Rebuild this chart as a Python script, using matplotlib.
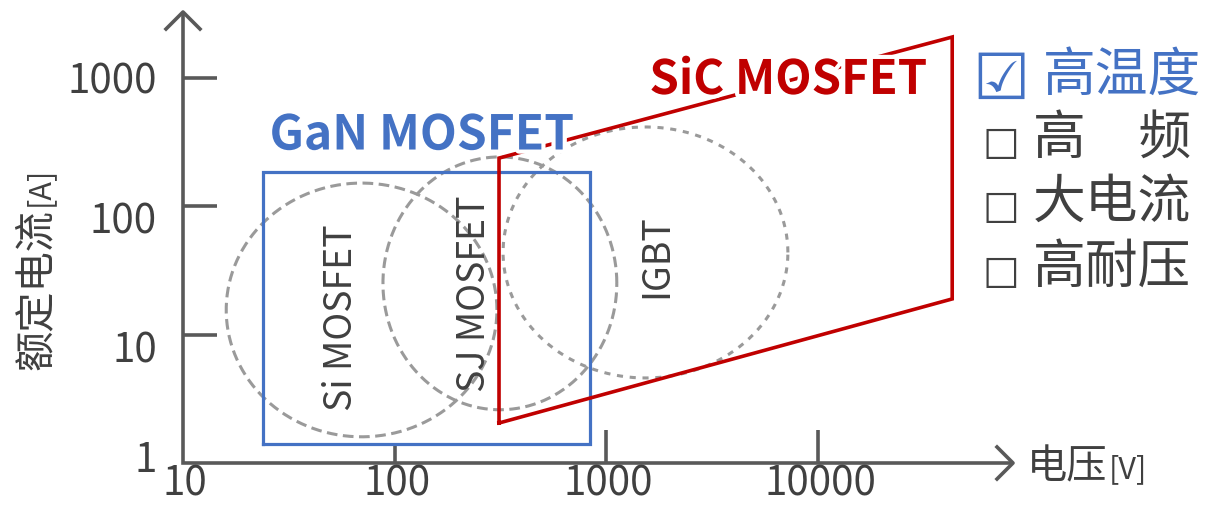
import numpy as np
import matplotlib.pyplot as plt
from matplotlib import patheffects as pe

plt.rcParams['font.family'] = ['Noto Sans CJK SC', 'DejaVu Sans']

# 坐标轴刻度
x_ticks = [10, 100, 1000, 10000]
y_ticks = [1, 10, 100, 1000]

# 各器件的电压/电流范围（椭圆外接框）
devices = ['Si MOSFET', 'SJ MOSFET', 'IGBT']
dev_v = [(16, 304), (88, 1120), (325, 7200)]
dev_i = [(1.6, 152), (2.6, 243), (4.6, 416)]
dev_label_v = [56, 239, 1734]
dev_label_i = [13.5, 21, 41]

# GaN 矩形范围
gan_v = (24, 836)
gan_i = (1.41, 185)

# SiC 平行四边形范围
sic_v = (311, 43000)
sic_i_left = (2.05, 238)
sic_i_right = (19, 2090)

# 右侧特性列表
features = ['高温度', '高　频', '大电流', '高耐压']
checked = [True, False, False, False]

AXC = '#595959'
TXT = '#404040'
GRAY = '#9a9a9a'
BLUE = '#4472C4'
RED = '#C00000'

W, H = 1206, 505
X0, DX = 183, 211.7   # 像素: V=10 的位置, 每个数量级的像素
Y0, DY = 463, 128.3   # 像素: I=1 的位置


def vx(px):
    return 10 ** (1 + (px - X0) / DX)


def iy(py):
    return 10 ** ((Y0 - py) / DY)


def fx(px):
    return px / W


def fy(py):
    return 1 - py / H


fig = plt.figure(figsize=(W / 100, H / 100), dpi=100)
ax = fig.add_axes([0, 0, 1, 1])
ax.set_xscale('log')
ax.set_yscale('log')
ax.set_xlim(vx(0), vx(W))
ax.set_ylim(iy(H), iy(0))
ax.axis('off')

# 坐标轴与箭头
x_end, y_end = vx(1013), iy(12)
ax.plot([10, 10, x_end], [y_end, 1, 1], color=AXC, lw=2.6,
        solid_joinstyle='miter', solid_capstyle='butt')
ax.plot([vx(166), 10, vx(200)], [iy(29), y_end, iy(29)], color=AXC, lw=2.6)
ax.plot([vx(997), x_end, vx(997)], [iy(447), 1, iy(479)], color=AXC, lw=2.6)

for t in y_ticks[1:]:
    ax.plot([10, vx(217)], [t, t], color=AXC, lw=2.6, solid_capstyle='butt')
tick_len = [20, 33, 33]
for t, L in zip(x_ticks[1:], tick_len):
    ax.plot([t, t], [1, iy(Y0 - L)], color=AXC, lw=2.6, solid_capstyle='butt')

y_lab_dy = [-3, 16, 16, 4]
for t, d in zip(y_ticks, y_lab_dy):
    py = Y0 - np.log10(t) * DY + d
    fig.text(fx(157), fy(py), str(t), ha='right', va='center',
             fontsize=29, color=TXT)
for t in x_ticks:
    px = X0 + (np.log10(t) - 1) * DX
    fig.text(fx(px + 2), fy(484), str(t), ha='center', va='center',
             fontsize=29, color=TXT)

# 器件范围（虚线椭圆）
th = np.linspace(0, 2 * np.pi, 400)
styles = [(0, (3.5, 1.8)), (0, (3.5, 1.8)), (0, (2.0, 2.2))]
for v, i, ls in zip(dev_v, dev_i, styles):
    lv, li = np.log10(v), np.log10(i)
    cx, rx = np.mean(lv), (lv[1] - lv[0]) / 2
    cy, ry = np.mean(li), (li[1] - li[0]) / 2
    ax.plot(10 ** (cx + rx * np.cos(th)), 10 ** (cy + ry * np.sin(th)),
            color=GRAY, lw=2.2, linestyle=ls)

for name, lv, li in zip(devices, dev_label_v, dev_label_i):
    ax.text(lv, li, name, rotation=90, ha='center', va='center',
            fontsize=27, color=TXT)

# GaN MOSFET 矩形
ax.plot([gan_v[0], gan_v[1], gan_v[1], gan_v[0], gan_v[0]],
        [gan_i[0], gan_i[0], gan_i[1], gan_i[1], gan_i[0]],
        color=BLUE, lw=2.3, solid_joinstyle='miter')
ax.text(134.6, 360, 'GaN MOSFET', ha='center', va='center', fontsize=34.5,
        fontweight='bold', color=BLUE,
        path_effects=[pe.withStroke(linewidth=6, foreground='white')])

# SiC MOSFET 平行四边形
ax.plot([sic_v[0], sic_v[1], sic_v[1], sic_v[0], sic_v[0]],
        [sic_i_left[0], sic_i_right[0], sic_i_right[1], sic_i_left[1], sic_i_left[0]],
        color=RED, lw=2.6, solid_joinstyle='miter')
ax.text(7210, 967, 'SiC MOSFET', ha='center', va='center', fontsize=34,
        fontweight='bold', color=RED,
        path_effects=[pe.withStroke(linewidth=6, foreground='white')])

# 轴标题
fig.text(fx(48), fy(290), '额定电流', rotation=90, rotation_mode='anchor',
         ha='center', va='baseline', fontsize=29, color=TXT)
fig.text(fx(48), fy(186), '[A]', rotation=90, rotation_mode='anchor',
         ha='center', va='baseline', fontsize=22, color=TXT)
fig.text(fx(1027), fy(478), '电压', ha='left', va='baseline',
         fontsize=29, color=TXT)
fig.text(fx(1109), fy(478), '[V]', ha='left', va='baseline',
         fontsize=22, color=TXT)

# 特性列表
row_y = [75, 138, 202, 267]
for name, ok, py in zip(features, checked, row_y):
    if ok:
        fig.text(fx(1001), fy(py + 6), '☑', ha='center', va='center',
                 fontsize=46, color=BLUE, family=['DejaVu Sans'])
        fig.text(fx(1043), fy(py), name, ha='left', va='center',
                 fontsize=38, color=BLUE)
    else:
        fig.text(fx(1001), fy(py + 5), '□', ha='center', va='center',
                 fontsize=28, color=TXT, family=['DejaVu Sans'])
        fig.text(fx(1033), fy(py), name, ha='left', va='center',
                 fontsize=38, color=TXT)

fig.savefig('out.png', dpi=100, facecolor='white')
